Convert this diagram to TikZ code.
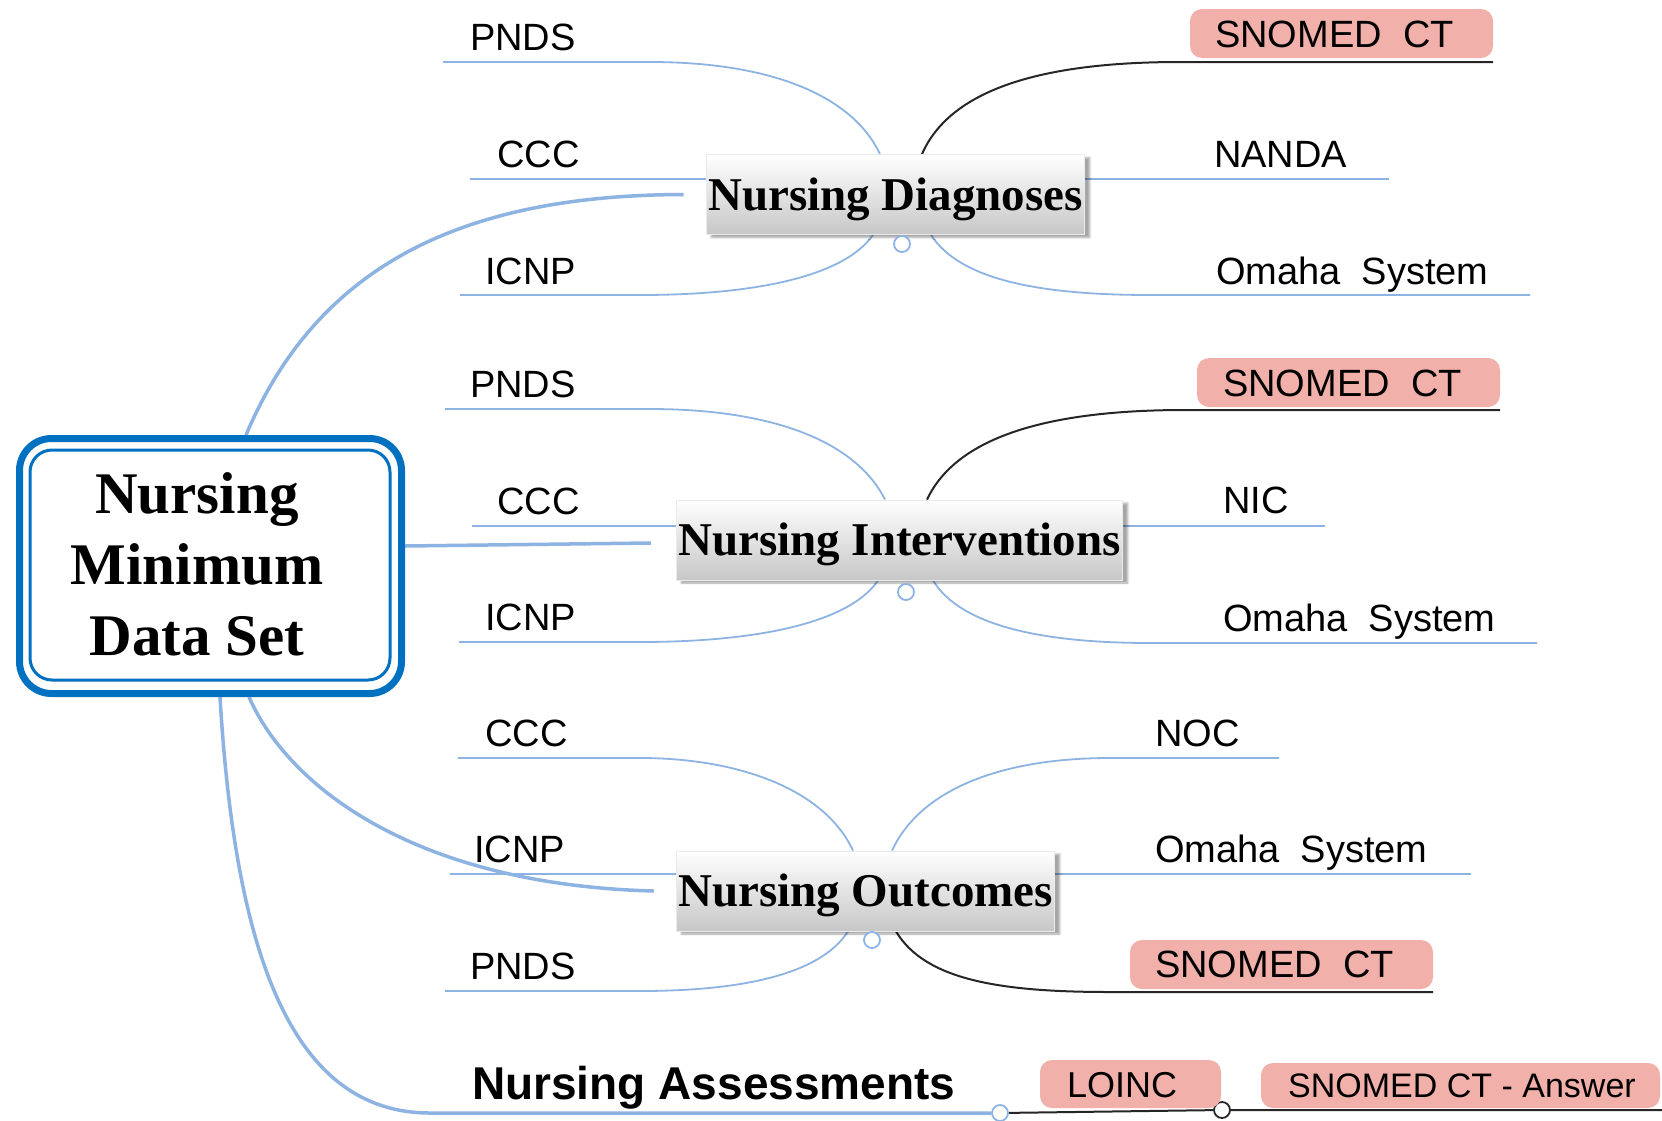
\documentclass[tikz,border=0pt]{standalone}
\usepackage{fontspec}
\setmainfont{Liberation Serif}
\setsansfont{Liberation Sans}
\usetikzlibrary{shadows.blur}
\definecolor{branch}{RGB}{141,179,226}
\definecolor{frame}{RGB}{0,112,192}
\definecolor{pill}{RGB}{242,176,170}
\pgfdeclarelayer{bg}
\pgfsetlayers{bg,main}

\begin{document}
\begin{tikzpicture}[x=1pt,y=-1pt,
  twig/.style={draw=branch, line width=1.8pt},
  limb/.style={draw=branch, line width=3.5pt},
  ink/.style={draw=black!85, line width=2pt},
  leaf/.style={font=\sffamily\fontsize{38}{40}\selectfont, anchor=base west, inner sep=0pt},
  tagtext/.style={font=\sffamily\fontsize{36}{38}\selectfont, anchor=base west, inner sep=0pt},
  topic/.style={font=\bfseries\fontsize{47}{50}\selectfont, shade, top color=white,
    bottom color=black!22, draw=black!8, line width=0.8pt, text height=31pt, text depth=0pt,
    minimum height=80pt, inner xsep=2pt,
    blur shadow={shadow xshift=5pt, shadow yshift=-3pt, shadow blur steps=6, shadow opacity=35}},
  tag/.style={fill=pill, rounded corners=12pt},
  knob/.style={circle, draw=branch, fill=white, line width=1.8pt, minimum size=16pt, inner sep=0pt},
  blackknob/.style={circle, draw=black!85, fill=white, line width=1.8pt, minimum size=16pt, inner sep=0pt},
  hub/.style={draw=frame, fill=white, line width=7pt, rounded corners=32pt,
    minimum width=382pt, minimum height=255pt},
  hubtext/.style={font=\bfseries\fontsize{59}{71}\selectfont, align=center, inner sep=0pt},
]
\useasboundingbox (0,0) rectangle (1662,1120);

% central node with double frame
\node[hub] (hub) at (210.5,566) {};
\draw[frame, line width=3pt, rounded corners=22pt]
  ([shift={(14pt,-15pt)}]hub.north west) rectangle ([shift={(-15pt,17pt)}]hub.south east);
\node[hubtext] (hubtitle) at (197,564) {Nursing\\Minimum\\Data Set};

% topic nodes
\node[topic] (nd) at (895.5,194.5) {Nursing Diagnoses};
\node[topic] (ni) at (899.5,540) {Nursing Interventions};
\node[topic] (no) at (865.5,891) {Nursing Outcomes};
\node[font=\sffamily\bfseries\fontsize{46}{48}\selectfont, anchor=base west, inner sep=0pt]
  (na) at (472,1099) {Nursing Assessments};

% collapse knobs
\node[knob] (dknob) at (902,244) {};
\node[knob] (iknob) at (906,592) {};
\node[knob] (oknob) at (872,940) {};
\node[knob] (aknob) at (1000,1113) {};
\node[blackknob] (bknob) at (1222,1110) {};

% free ends of the underlines
\coordinate (dPNDSe) at (443,62);
\coordinate (dCCCe) at (470,179);
\coordinate (dICNPe) at (460,295);
\coordinate (dSNOe) at (1493,62);
\coordinate (dNANDAe) at (1389,179);
\coordinate (dOmahae) at (1530,295);
\coordinate (iPNDSe) at (445,409);
\coordinate (iCCCe) at (472,526);
\coordinate (iICNPe) at (459,642);
\coordinate (iSNOe) at (1500,410);
\coordinate (iNICe) at (1325,526);
\coordinate (iOmahae) at (1537,643);
\coordinate (oCCCe) at (458,758);
\coordinate (oICNPe) at (450,874);
\coordinate (oPNDSe) at (445,991);
\coordinate (oNOCe) at (1279,758);
\coordinate (oOmahae) at (1471,874);
\coordinate (oSNOe) at (1433,992);
\coordinate (edgeR) at (1662,1110);

% pills behind the coded terminologies
\fill[tag] (1190,9) rectangle (1493,58);
\fill[tag] (1197,358) rectangle (1500,407);
\fill[tag] (1130,940) rectangle (1433,989);
\fill[tag] (1040,1060) rectangle (1221,1108);
\fill[tag] (1261,1063) rectangle (1660,1108);

% leaf labels
\node[leaf] (dPNDS) at (470,50) {PNDS};
\node[leaf] (dCCC) at (497,167) {CCC};
\node[leaf] (dICNP) at (485,284) {ICNP};
\node[leaf] (dSNO) at (1215,47) {SNOMED~~CT};
\node[leaf] (dNANDA) at (1214,167) {NANDA};
\node[leaf] (dOmaha) at (1216,284) {Omaha~~System};

\node[leaf] (iPNDS) at (470,397) {PNDS};
\node[leaf] (iCCC) at (497,514) {CCC};
\node[leaf] (iICNP) at (485,630) {ICNP};
\node[leaf] (iSNO) at (1223,396) {SNOMED~~CT};
\node[leaf] (iNIC) at (1223,513) {NIC};
\node[leaf] (iOmaha) at (1223,631) {Omaha~~System};

\node[leaf] (oCCC) at (485,746) {CCC};
\node[leaf] (oICNP) at (474,862) {ICNP};
\node[leaf] (oPNDS) at (470,979) {PNDS};
\node[leaf] (oNOC) at (1155,746) {NOC};
\node[leaf] (oOmaha) at (1155,862) {Omaha~~System};
\node[leaf] (oSNO) at (1155,977) {SNOMED~~CT};

\node[tagtext] (aLOINC) at (1067,1097) {LOINC};
\node[font=\sffamily\fontsize{34}{36}\selectfont, anchor=base west, inner sep=0pt]
  (aSNO) at (1288,1097) {SNOMED CT - Answer};

\begin{pgfonlayer}{bg}
  % main branches from the central node
  \draw[limb] ([xshift=35.5pt]hub.north) .. controls (320,260) and (470,195) .. ([xshift=-22pt]nd.west);
  \draw[limb] ([yshift=20pt]hub.east) -- ([xshift=-25pt,yshift=-3pt]ni.west);
  \draw[limb] ([xshift=38.5pt]hub.south) .. controls (290,790) and (420,885) .. ([xshift=-22pt]no.west);
  \draw[limb] ([xshift=9.5pt]hub.south) .. controls (235,950) and (290,1113) .. (430,1113) -- (aknob);
  \draw[ink] (aknob) -- (bknob) -- (edgeR);

  % Nursing Diagnoses
  \draw[twig] ([xshift=-15.5pt]nd.north) .. controls (852,95) and (770,62) .. (650,62) -- (dPNDSe);
  \draw[twig] ([yshift=15.5pt]nd.west) -- (dCCCe);
  \draw[twig] ([xshift=-22.5pt]nd.south) .. controls (845,275) and (760,295) .. (640,295) -- (dICNPe);
  \draw[ink] ([xshift=26.5pt]nd.north) .. controls (950,90) and (1040,62) .. (1180,62) -- (dSNOe);
  \draw[twig] ([yshift=15.5pt]nd.east) -- (dNANDAe);
  \draw[twig] ([xshift=35.5pt]nd.south) .. controls (960,280) and (1040,295) .. (1150,295) -- (dOmahae);

  % Nursing Interventions
  \draw[twig] ([xshift=-14.5pt]ni.north) .. controls (855,440) and (770,409) .. (650,409) -- (iPNDSe);
  \draw[twig] ([yshift=14pt]ni.west) -- (iCCCe);
  \draw[twig] ([xshift=-21.5pt]ni.south) .. controls (850,622) and (760,642) .. (640,642) -- (iICNPe);
  \draw[ink] ([xshift=27.5pt]ni.north) .. controls (955,440) and (1040,410) .. (1185,410) -- (iSNOe);
  \draw[twig] ([yshift=14pt]ni.east) -- (iNICe);
  \draw[twig] ([xshift=33.5pt]ni.south) .. controls (960,625) and (1040,643) .. (1150,643) -- (iOmahae);

  % Nursing Outcomes
  \draw[twig] ([xshift=-12.5pt]no.north) .. controls (825,790) and (740,758) .. (640,758) -- (oCCCe);
  \draw[twig] ([yshift=17pt]no.west) -- (oICNPe);
  \draw[twig] ([xshift=-17.5pt]no.south) .. controls (820,975) and (740,991) .. (640,991) -- (oPNDSe);
  \draw[twig] ([xshift=26.5pt]no.north) .. controls (920,790) and (1000,758) .. (1110,758) -- (oNOCe);
  \draw[twig] ([yshift=17pt]no.east) -- (oOmahae);
  \draw[ink] ([xshift=30.5pt]no.south) .. controls (925,980) and (1000,992) .. (1110,992) -- (oSNOe);
\end{pgfonlayer}
\end{tikzpicture}
\end{document}
